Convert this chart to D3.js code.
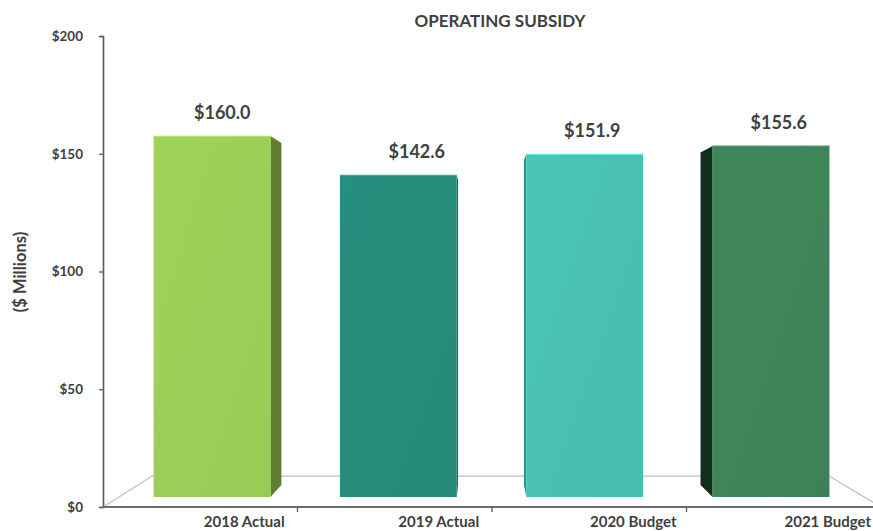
<!DOCTYPE html>
<html>
<head>
<meta charset="utf-8">
<script src="https://cdn.jsdelivr.net/npm/d3@7"></script>
<style>
  html, body { margin: 0; padding: 0; background: #fff; }
  svg { display: block; font-family: Lato, "Open Sans", sans-serif; }
</style>
</head>
<body>
<div id="chart"></div>
<script>
/* chart data */
var categories = ["2018 Actual", "2019 Actual", "2020 Budget", "2021 Budget"];
var subsidy = [160.0, 142.6, 151.9, 155.6];
var yTicks = [0, 50, 100, 150, 200];
var frontColors = ["#9bcf57", "#268c7c", "#48c1b4", "#3e8558"];
var sideColors = ["#5e7f31", "#1c6a5e", "#2f958a", "#132d1c"];

var width = 873, height = 531;

/* perspective: vanishing point and depth fractions */
var vp = [481, 269];
var depthBarFront = 0.042, depthBarBack = 0.092, depthFloor = 0.13;
/* value label nudges, as placed in the original 3D chart */
var labelNudge = [22, 22, 3, -5];

function proj(px, py, d) {
  return [px + (vp[0] - px) * d, py + (vp[1] - py) * d];
}

var svg = d3.select("#chart").append("svg")
  .attr("width", width)
  .attr("height", height)
  .style("overflow", "hidden");

var x = d3.scaleBand()
  .domain(categories)
  .range([103, 881])
  .paddingInner(0.373)
  .paddingOuter(0.1865);

var y = d3.scaleLinear().domain([0, 200]).range([507, 36]);

var line = d3.line();

/* gradients for bar fronts */
var defs = svg.append("defs");
frontColors.forEach(function(c, i) {
  var g = defs.append("linearGradient")
    .attr("id", "grad" + i)
    .attr("x1", "0").attr("y1", "0").attr("x2", "1").attr("y2", "1");
  g.append("stop").attr("offset", "0%").attr("stop-color", d3.color(c).brighter(0.06));
  g.append("stop").attr("offset", "100%").attr("stop-color", d3.color(c).darker(0.06));
});

/* floor */
var fl = [proj(103, y(0), 0), proj(881, y(0), 0), proj(881, y(0), depthFloor), proj(103, y(0), depthFloor)];
svg.append("path")
  .attr("d", line([fl[0], fl[3], fl[2], fl[1]]))
  .attr("fill", "none")
  .attr("stroke", "#bfbfbf")
  .attr("stroke-width", 1.3);

/* bars */
var bars = svg.selectAll(".bar")
  .data(subsidy)
  .enter().append("g")
  .attr("class", "bar");

bars.each(function(v, i) {
  var g = d3.select(this);
  var x0 = x(categories[i]), x1 = x0 + x.bandwidth();
  var yt = y(v), yb = y(0);
  var side = null;
  if (x1 < vp[0]) {
    side = [proj(x1, yt, depthBarFront), proj(x1, yt, depthBarBack), proj(x1, yb, depthBarBack), proj(x1, yb, depthBarFront)];
  } else if (x0 > vp[0]) {
    side = [proj(x0, yt, depthBarFront), proj(x0, yt, depthBarBack), proj(x0, yb, depthBarBack), proj(x0, yb, depthBarFront)];
  }
  if (side) {
    g.append("path")
      .attr("d", line(side) + "Z")
      .attr("fill", sideColors[i]);
  }
  var front = [proj(x0, yt, depthBarFront), proj(x1, yt, depthBarFront), proj(x1, yb, depthBarFront), proj(x0, yb, depthBarFront)];
  g.append("path")
    .attr("d", line(front) + "Z")
    .attr("fill", "url(#grad" + i + ")");
  g.append("path")
    .attr("d", line([front[0], front[1]]))
    .attr("stroke", d3.color(frontColors[i]).brighter(0.6))
    .attr("stroke-width", 1);
});

/* value labels */
svg.selectAll(".val")
  .data(subsidy)
  .enter().append("text")
  .attr("class", "val")
  .attr("x", function(d, i) { return x(categories[i]) + x.bandwidth() / 2 + labelNudge[i]; })
  .attr("y", function(d) { return proj(0, y(d), depthBarFront)[1] - 17; })
  .attr("text-anchor", "middle")
  .attr("font-size", 18)
  .attr("font-weight", "bold")
  .attr("fill", "#404040")
  .text(function(d) { return d3.format("$.1f")(d); });

/* y axis */
var yAxis = svg.append("g")
  .attr("transform", "translate(103,0)")
  .call(d3.axisLeft(y).tickValues(yTicks).tickSize(4).tickPadding(16)
    .tickFormat(function(d) { return "$" + d; }));
yAxis.select(".domain").attr("stroke", "#595959").attr("stroke-width", 1.6);
yAxis.selectAll(".tick line").attr("stroke", "#595959").attr("stroke-width", 1.3);
yAxis.selectAll("text")
  .attr("font-size", 13.5)
  .attr("font-weight", "bold")
  .attr("font-family", "Lato, sans-serif")
  .attr("fill", "#404040");

/* x axis */
var step = x.step(), pad = x.paddingInner() * step / 2;
svg.append("line")
  .attr("x1", 103).attr("x2", 881)
  .attr("y1", y(0)).attr("y2", y(0))
  .attr("stroke", "#6e6e6e")
  .attr("stroke-width", 2);
svg.selectAll(".xtick")
  .data(categories.slice(1))
  .enter().append("line")
  .attr("class", "xtick")
  .attr("x1", function(d) { return x(d) - pad; })
  .attr("x2", function(d) { return x(d) - pad; })
  .attr("y1", y(0)).attr("y2", y(0) + 5)
  .attr("stroke", "#595959")
  .attr("stroke-width", 1.3);
svg.selectAll(".xlab")
  .data(categories)
  .enter().append("text")
  .attr("class", "xlab")
  .attr("x", function(d) { return x(d) + x.bandwidth() / 2 + 44; })
  .attr("y", 527)
  .attr("text-anchor", "middle")
  .attr("font-size", 15)
  .attr("font-weight", "bold")
  .attr("fill", "#404040")
  .text(function(d) { return d; });

/* titles */
svg.append("text")
  .attr("x", 500).attr("y", 27)
  .attr("text-anchor", "middle")
  .attr("font-size", 17)
  .attr("font-weight", "bold")
  .attr("fill", "#404040")
  .text("OPERATING SUBSIDY");

svg.append("text")
  .attr("transform", "translate(26,272) rotate(-90)")
  .attr("text-anchor", "middle")
  .attr("font-size", 16.5)
  .attr("font-weight", "bold")
  .attr("fill", "#404040")
  .text("($ Millions)");
</script>
</body>
</html>
